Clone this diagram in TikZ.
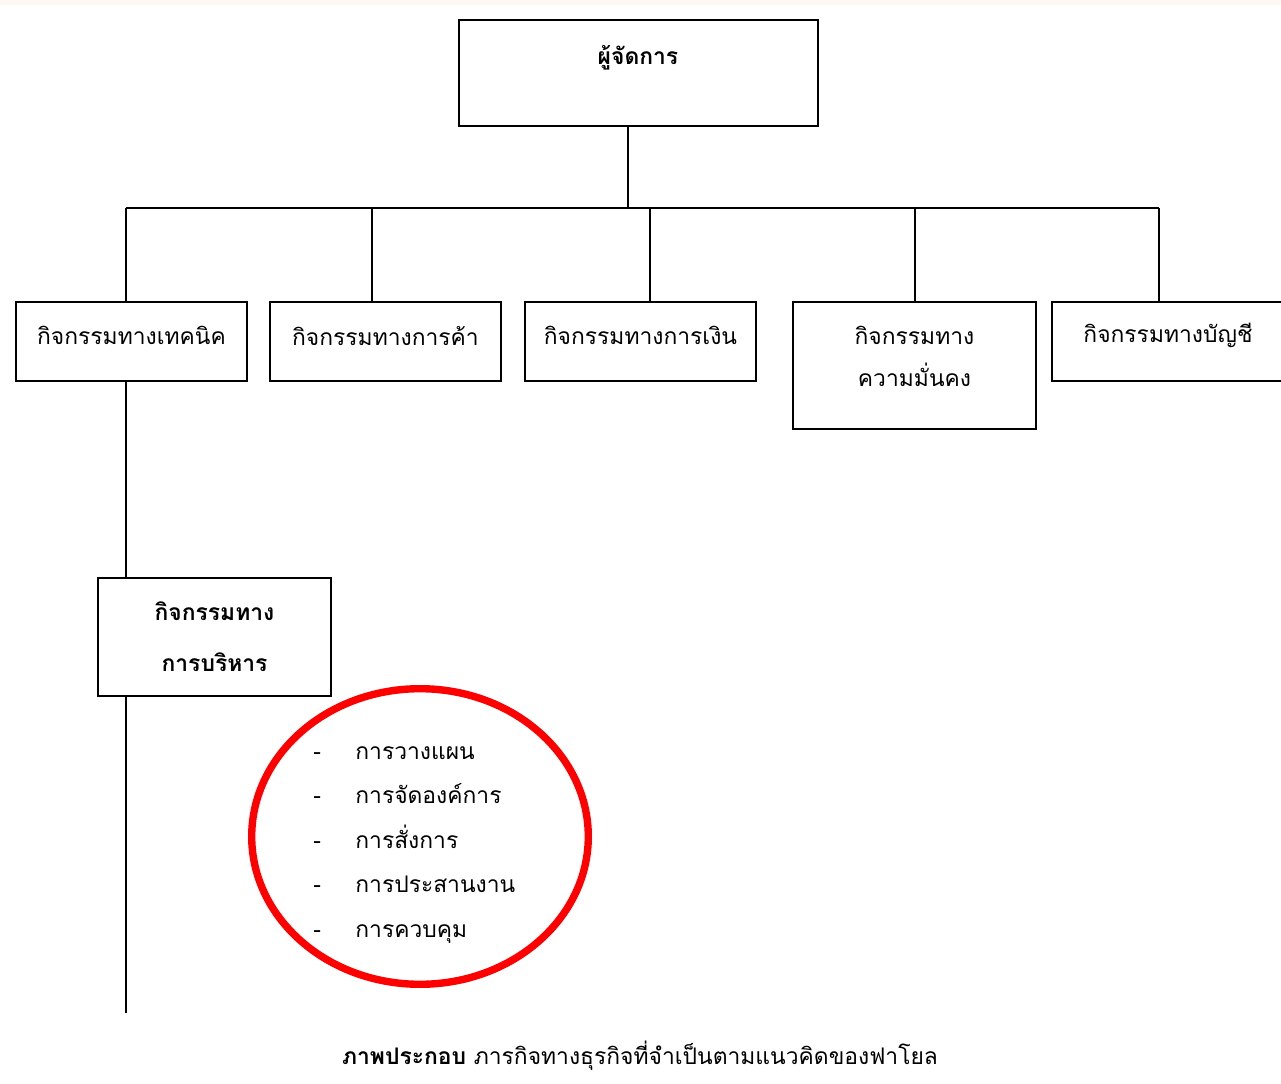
\documentclass[tikz,border=0pt]{standalone}
\usepackage{fontspec}
\newfontfamily\thaifont[Script=Thai]{Loma}
\usetikzlibrary{positioning}
\definecolor{topband}{RGB}{253,248,241}
\newcommand{\boxlift}[2]{\raisebox{#1}[\height][\depth]{#2}}
\tikzset{
	box/.style={draw, line width=1pt, inner sep=0pt, align=center,
			font=\thaifont\fontsize{13}{24}\selectfont},
	wide/.style={minimum width=231*0.02cm, minimum height=79*0.02cm},
	link/.style={line width=1pt},
	listitem/.style={anchor=base west, inner sep=0pt,
			font=\thaifont\fontsize{13}{16}\selectfont}
}

\begin{document}
\begin{tikzpicture}[x=0.02cm,y=-0.02cm]
	\useasboundingbox (0,0) rectangle (1281,1084);
	\fill[topband] (0,0) rectangle (1281,5);

	% Manager box
	\node[box, minimum width=359*0.02cm, minimum height=106*0.02cm] (mgr) at (638.5,73) {};
	\node[font=\thaifont\bfseries\fontsize{13}{16}\selectfont, inner sep=0pt] (mgrtext) at (638,58) {ผู้จัดการ};

	% Activity boxes
	\node[box, wide] (tech) at (131.5,341.5) {\boxlift{3.4pt}{กิจกรรมทางเทคนิค}};
	\node[box, wide] (trade) at (385.5,341.5) {\boxlift{3.4pt}{กิจกรรมทางการค้า}};
	\node[box, wide] (fin) at (640.5,341.5) {\boxlift{3.4pt}{กิจกรรมทางการเงิน}};
	\node[box, minimum width=243*0.02cm, minimum height=127*0.02cm] (sec) at (914.5,365.5)
		{\boxlift{5pt}{กิจกรรมทาง}\\\boxlift{5pt}{ความมั่นคง}};
	\node[box, minimum width=232*0.02cm, minimum height=79*0.02cm] (acct) at (1168,341.5) {\boxlift{3.4pt}{กิจกรรมทางบัญชี}};
	\node[box, minimum width=233*0.02cm, minimum height=118*0.02cm,
		font=\thaifont\bfseries\fontsize{13}{29}\selectfont] (admin) at (214.5,637) {กิจกรรมทาง\\การบริหาร};

	% Bus points
	\coordinate (top) at (628,208);
	\coordinate (b1) at (126,208);
	\coordinate (b2) at (372,208);
	\coordinate (b3) at (650,208);
	\coordinate (b4) at (915,208);
	\coordinate (b5) at (1159,208);
	\coordinate (tail) at (126,1013);

	% Connectors
	\draw[link] (mgr.south -| top) -- (top);
	\draw[link] (b1) -- (b5);
	\draw[link] (b1) -- (b1 |- tech.north);
	\draw[link] (b2) -- (b2 |- trade.north);
	\draw[link] (b3) -- (b3 |- fin.north);
	\draw[link] (b4) -- (b4 |- sec.north);
	\draw[link] (b5) -- (b5 |- acct.north);
	\draw[link] (tech.south -| b1) -- (admin.north -| b1);
	\draw[link] (admin.south -| tail) -- (tail);

	% Red ring round the list
	\draw[red, line width=4.2pt] (420,836.5) ellipse [x radius=168.3, y radius=147.8];

	% Functions of management
	\foreach \task [count=\i] in {การวางแผน, การจัดองค์การ, การสั่งการ, การประสานงาน, การควบคุม} {
		\node[listitem] (dash\i) at (313,{750+44.5*(\i-1)+9}) {-};
		\node[listitem] (task\i) at (355,{750+44.5*(\i-1)+9}) {\task};
	}

	% Caption
	\node[font=\thaifont\fontsize{13}{16}\selectfont, inner sep=0pt] (caption) at (640,1056)
		{\textbf{ภาพประกอบ} ภารกิจทางธุรกิจที่จำเป็นตามแนวคิดของฟาโยล};
\end{tikzpicture}
\end{document}
